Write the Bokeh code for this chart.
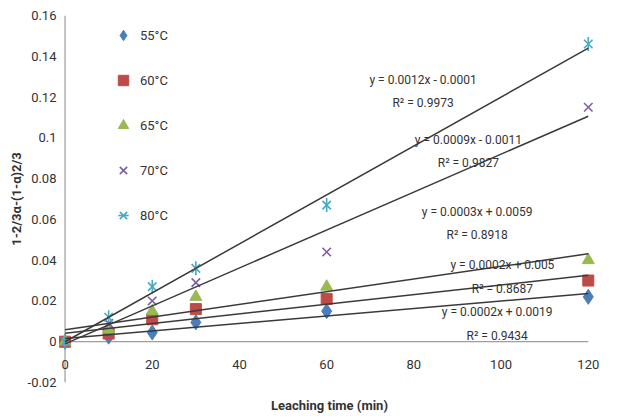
import numpy as np
from bokeh.plotting import figure
from bokeh.models import (Range1d, FixedTicker, CustomJSTickFormatter, Legend, LegendItem,
                          Label, Title)
from bokeh.embed import file_html
from bokeh.resources import INLINE

# ---- data ----
time_min = [0, 10, 20, 30, 60, 120]
series_names = ["55°C", "60°C", "65°C", "70°C", "80°C"]
y_55 = [0.0, 0.0025, 0.0045, 0.0095, 0.015, 0.022]
y_60 = [0.0, 0.004, 0.011, 0.016, 0.021, 0.030]
y_65 = [0.0, 0.006, 0.015, 0.022, 0.027, 0.040]
y_70 = [0.0, 0.009, 0.020, 0.029, 0.044, 0.115]
y_80 = [0.0, 0.012, 0.027, 0.036, 0.067, 0.146]
eq_texts = ["y = 0.0002x + 0.0019", "y = 0.0002x + 0.005", "y = 0.0003x + 0.0059",
            "y = 0.0009x - 0.0011", "y = 0.0012x - 0.0001"]
r2_texts = ["R² = 0.9434", "R² = 0.8687", "R² = 0.8918", "R² = 0.9827", "R² = 0.9973"]
x_ticks = [0, 20, 40, 60, 80, 100, 120]
y_ticks = [-0.02, 0, 0.02, 0.04, 0.06, 0.08, 0.1, 0.12, 0.14, 0.16]

series = [y_55, y_60, y_65, y_70, y_80]
colors = ["#4A7EBB", "#BE4B48", "#98B954", "#7D60A0", "#46AAC5"]
markers = ["diamond", "square", "triangle", "x", "x"]
sizes = [15, 11, 12, 12, 12]
# label anchor positions (data units) for equation / R² text
eq_pos = [(99.1, 0.0147), (100.3, 0.0377), (94.5, 0.0637), (92.5, 0.099), (82.1, 0.1284)]
r2_pos = [(99.1, 0.0029), (100.3, 0.026), (94.5, 0.0525), (92.5, 0.0877), (82.1, 0.1172)]

FONT = "Roboto"
TXT = "#333333"
AXC = "#868686"

p = figure(frame_width=542, frame_height=367,
           x_range=Range1d(-1.5, 122.8), y_range=Range1d(-0.02, 0.16),
           output_backend="svg", toolbar_location=None,
           min_border_left=58, min_border_right=15, min_border_top=15, min_border_bottom=0)
p.outline_line_color = None
p.grid.visible = False
p.background_fill_color = "white"

# x axis crossing at y = 0
p.xaxis.fixed_location = 0
p.xaxis.ticker = FixedTicker(ticks=x_ticks)
p.xaxis.axis_line_alpha = 0
p.xaxis.major_tick_out = 0
p.xaxis.major_tick_in = 0
p.xaxis.minor_tick_out = 0
p.xaxis.minor_tick_in = 0
p.xaxis.major_label_standoff = 18
p.xaxis.major_label_text_font = FONT
p.xaxis.major_label_text_font_size = "13px"
p.xaxis.major_label_text_color = TXT

# y axis labels at frame left; axis line drawn at x = 0
p.yaxis.ticker = FixedTicker(ticks=y_ticks)
p.yaxis.formatter = CustomJSTickFormatter(code="return (Math.round(tick*100)/100).toString();")
p.yaxis.axis_line_alpha = 0
p.yaxis.major_tick_out = 0
p.yaxis.major_tick_in = 0
p.yaxis.minor_tick_out = 0
p.yaxis.minor_tick_in = 0
p.yaxis.major_label_standoff = 2
p.yaxis.major_label_text_font = FONT
p.yaxis.major_label_text_font_size = "13px"
p.yaxis.major_label_text_color = TXT

p.line([min(time_min), max(time_min)], [0, 0], line_color=AXC, line_width=1)
p.line([0, 0], [min(y_ticks), max(y_ticks)], line_color=AXC, line_width=1)

p.add_layout(Title(text="Leaching time (min)", align="center", text_font=FONT,
                   text_font_size="13px", text_font_style="bold", text_color=TXT,
                   standoff=26), "below")
p.add_layout(Title(text="1-2/3α-(1-α)2/3", align="center", text_font=FONT,
                   text_font_size="13px", text_font_style="bold", text_color=TXT,
                   standoff=2), "left")

items = []
for i, (name, ys, c, m, s) in enumerate(zip(series_names, series, colors, markers, sizes)):
    lw = 1.6 if m == "x" else 1
    r = p.scatter(time_min, ys, marker=m, size=s, fill_color=c, line_color=c, line_width=lw)
    rends = [r]
    if i == len(series) - 1:
        # star marker: x plus a vertical bar
        r2 = p.scatter(time_min, ys, marker="dash", angle=np.pi / 2, size=14,
                       line_color=c, line_width=1.6)
        rends.append(r2)
    items.append(LegendItem(label=name, renderers=rends))

# linear trendlines (least squares from the data)
xs = np.array(time_min, dtype=float)
for ys in series:
    k, b = np.polyfit(xs, np.array(ys), 1)
    xl = [xs.min(), xs.max()]
    p.line(xl, [k * xl[0] + b, k * xl[1] + b], line_color="#3a3a3a", line_width=1.5)

for t, (x, y) in zip(eq_texts, eq_pos):
    p.add_layout(Label(x=x, y=y, text=t, text_align="center", text_baseline="middle",
                       text_font=FONT, text_font_size="12px", text_color=TXT))
for t, (x, y) in zip(r2_texts, r2_pos):
    p.add_layout(Label(x=x, y=y, text=t, text_align="center", text_baseline="middle",
                       text_font=FONT, text_font_size="12px", text_color=TXT))

legend = Legend(items=items, location=(48, 150), margin=0, padding=4,
                glyph_width=26, glyph_height=26, label_height=26, spacing=19,
                label_standoff=4, label_text_font=FONT, label_text_font_size="13px",
                label_text_color=TXT, border_line_alpha=0, background_fill_alpha=0)
p.add_layout(legend)

open("out.html", "w").write(file_html(p, INLINE))
